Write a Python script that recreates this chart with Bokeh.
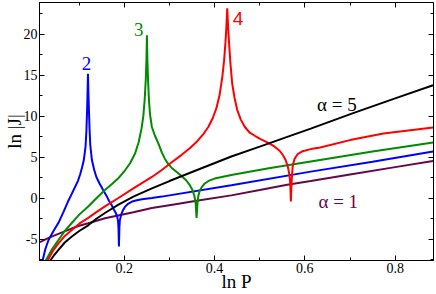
from bokeh.plotting import figure
from bokeh.models import LinearAxis, FixedTicker, Label
from bokeh.embed import file_html
from bokeh.resources import INLINE

# ---- data ----
x_ticks = [0.2, 0.4, 0.6, 0.8]
x_tick_labels = ["0.2", "0.4", "0.6", "0.8"]
x_minor = [0.1, 0.3, 0.5, 0.7]
y_ticks = [-5, 0, 5, 10, 15, 20]
y_tick_labels = ["-5", "0", "5", "10", "15", "20"]
y_minor = [-7.5, -2.5, 2.5, 7.5, 12.5, 17.5, 22.5]

# alpha = 1 (maroon)
a1_x = [0.013, 0.030, 0.047, 0.065, 0.083, 0.100, 0.120, 0.157, 0.186, 0.220, 0.261, 0.310,
        0.360, 0.437, 0.500, 0.561, 0.613, 0.700, 0.800, 0.884]
a1_y = [-5.35, -4.9, -4.5, -4.1, -3.7, -3.35, -3.05, -2.45, -2.1, -1.7, -1.2, -0.75,
        -0.3, 0.35, 1.0, 1.65, 2.1, 2.9, 3.8, 4.55]

# alpha = 2 (blue)
a2_x = [0.019, 0.025, 0.032, 0.043, 0.054, 0.065, 0.076, 0.084, 0.091, 0.097, 0.102, 0.106,
        0.110, 0.114, 0.116, 0.1175, 0.1185, 0.1194, 0.1203, 0.1215, 0.123, 0.1245, 0.128,
        0.133, 0.138, 0.145, 0.153, 0.160, 0.166, 0.172, 0.177, 0.181, 0.184, 0.186, 0.187,
        0.188, 0.189, 0.190, 0.193, 0.197, 0.202, 0.209, 0.217, 0.228, 0.239, 0.261, 0.283,
        0.437, 0.613, 0.750, 0.884]
a2_y = [-7.6, -6.2, -5.1, -4.0, -3.0, -1.7, -0.3, 0.6, 1.4, 2.1, 2.9, 3.7,
        4.6, 6.3, 8.3, 10.8, 13.0, 15.2, 13.0, 10.8, 8.3, 6.5, 4.7,
        3.5, 2.6, 1.8, 1.0, 0.35, -0.3, -0.85, -1.4, -1.8, -2.2, -2.8, -3.6,
        -5.9, -3.6, -2.7, -2.0, -1.45, -1.0, -0.65, -0.4, -0.25, -0.12, 0.03, 0.2,
        1.6, 3.25, 4.45, 5.7]

# alpha = 3 (green)
a3_x = [0.026, 0.040, 0.054, 0.068, 0.083, 0.100, 0.120, 0.138, 0.157, 0.172, 0.186, 0.200,
        0.213, 0.224, 0.232, 0.238, 0.242, 0.245, 0.2475, 0.249, 0.250, 0.251, 0.2525, 0.2545,
        0.257, 0.261, 0.268, 0.276, 0.283, 0.290, 0.297, 0.305, 0.316, 0.327, 0.337, 0.345,
        0.351, 0.355, 0.358, 0.360, 0.362, 0.364, 0.367, 0.372, 0.378, 0.388, 0.400, 0.437,
        0.520, 0.613, 0.750, 0.884]
a3_y = [-7.6, -6.2, -5.1, -4.0, -3.05, -2.0, -1.0, 0.0, 1.0, 1.7, 2.4, 3.3,
        4.3, 5.5, 6.9, 8.5, 10.0, 12.0, 14.5, 17.0, 19.9, 17.0, 14.5, 12.0,
        10.2, 8.7, 7.6, 6.6, 5.6, 4.8, 4.2, 3.7, 3.2, 2.7, 2.2, 1.6,
        1.0, 0.3, -0.6, -2.4, -0.6, 0.3, 0.9, 1.4, 1.8, 2.15, 2.4, 2.85,
        3.65, 4.5, 5.7, 6.8]

# alpha = 4 (red)
a4_x = [0.030, 0.042, 0.054, 0.068, 0.083, 0.100, 0.120, 0.138, 0.157, 0.186, 0.220, 0.261,
        0.283, 0.305, 0.327, 0.345, 0.362, 0.376, 0.386, 0.396, 0.404, 0.411, 0.417, 0.421,
        0.424, 0.426, 0.428, 0.430, 0.432, 0.435, 0.439, 0.444, 0.450, 0.458, 0.467, 0.478,
        0.490, 0.503, 0.518, 0.533, 0.544, 0.551, 0.557, 0.562, 0.565, 0.567, 0.568, 0.569,
        0.570, 0.571, 0.573, 0.577, 0.584, 0.595, 0.613, 0.634, 0.700, 0.774, 0.884]
a4_y = [-7.6, -6.4, -5.5, -4.6, -3.9, -3.1, -2.4, -1.7, -1.0, 0.0, 1.2, 2.6,
        3.45, 4.4, 5.3, 6.1, 7.0, 7.9, 8.7, 9.8, 11.0, 12.6, 14.8, 16.8,
        19.0, 20.8, 23.2, 20.8, 19.0, 16.5, 14.0, 12.3, 10.8, 9.6, 8.7, 8.0,
        7.6, 7.2, 6.8, 6.3, 5.8, 5.3, 4.7, 3.9, 3.1, 2.2, 1.2, -0.4,
        1.2, 2.4, 3.9, 4.8, 5.4, 5.75, 6.0, 6.2, 7.1, 7.9, 8.65]

# alpha = 5 (black)
a5_x = [0.036, 0.045, 0.054, 0.068, 0.083, 0.100, 0.120, 0.138, 0.157, 0.186, 0.220, 0.261,
        0.300, 0.350, 0.437, 0.500, 0.561, 0.613, 0.707, 0.800, 0.884]
a5_y = [-7.6, -6.9, -6.3, -5.4, -4.7, -4.0, -3.3, -2.5, -1.8, -0.8, 0.2, 1.2,
        2.1, 3.2, 5.1, 6.3, 7.5, 8.5, 10.4, 12.2, 13.8]

series = [
    (a1_x, a1_y, "#670748"),
    (a2_x, a2_y, "#0000ff"),
    (a3_x, a3_y, "#008b00"),
    (a4_x, a4_y, "#ff0000"),
    (a5_x, a5_y, "#000000"),
]

# label text, x, y, colour, font
curve_labels = [
    ("2", 0.116, 16.5, "#0000ff", "Liberation Serif"),
    ("3", 0.232, 20.6, "#008b00", "Liberation Serif"),
    ("4", 0.452, 21.9, "#ff0000", "Liberation Sans"),
    ("\u03b1 = 5", 0.671, 11.4, "#000000", "Liberation Serif"),
    ("\u03b1 = 1", 0.674, -0.4, "#670748", "Liberation Serif"),
]

x_title = "ln P"
y_title = "ln |J|"

X_RANGE = (0.012, 0.885)
Y_RANGE = (-7.6, 23.9)

p = figure(width=436, height=294, x_range=X_RANGE, y_range=Y_RANGE,
           output_backend="svg", toolbar_location=None, tools="",
           min_border_left=37, min_border_right=3, min_border_top=2, min_border_bottom=20,
           x_axis_location=None, y_axis_location=None)
p.grid.visible = False
p.outline_line_color = "black"
p.outline_line_width = 1
p.background_fill_color = "white"
p.border_fill_color = "white"

xt = FixedTicker(ticks=x_ticks, minor_ticks=x_minor)
yt = FixedTicker(ticks=y_ticks, minor_ticks=y_minor)


def style(ax, labels=None, title=None, title_standoff=0):
    ax.axis_line_color = "black"
    ax.major_tick_in = 5
    ax.major_tick_out = 0
    ax.minor_tick_in = 3
    ax.minor_tick_out = 0
    ax.major_tick_line_color = "black"
    ax.minor_tick_line_color = "black"
    if labels is not None:
        ax.major_label_text_font = "Liberation Serif"
        ax.major_label_text_font_size = "14px"
        ax.major_label_text_color = "black"
        ax.major_label_standoff = 2
        ax.major_label_overrides = labels
    else:
        ax.major_label_text_font_size = "0px"
        ax.major_label_standoff = 0
    if title is not None:
        ax.axis_label = title
        ax.axis_label_text_font = "Liberation Serif"
        ax.axis_label_text_font_size = "19px"
        ax.axis_label_text_font_style = "normal"
        ax.axis_label_text_color = "black"
        ax.axis_label_standoff = title_standoff


bx = LinearAxis(ticker=xt)
style(bx, dict(zip(x_ticks, x_tick_labels)), x_title, -5)
ly = LinearAxis(ticker=yt)
style(ly, dict(zip(y_ticks, y_tick_labels)), y_title, -4)
tx = LinearAxis(ticker=xt)
style(tx, {t: "" for t in x_ticks})
ry = LinearAxis(ticker=yt)
style(ry, {t: "" for t in y_ticks})
p.add_layout(bx, "below")
p.add_layout(ly, "left")
p.add_layout(tx, "above")
p.add_layout(ry, "right")

for xs, ys, c in series:
    p.line(xs, ys, line_color=c, line_width=2)

for txt, lx, ly_, c, f in curve_labels:
    p.add_layout(Label(x=lx, y=ly_, text=txt, text_color=c, text_font=f,
                       text_font_size="19px", text_align="center", text_baseline="middle"))

open("out.html", "w").write(file_html(p, INLINE))
